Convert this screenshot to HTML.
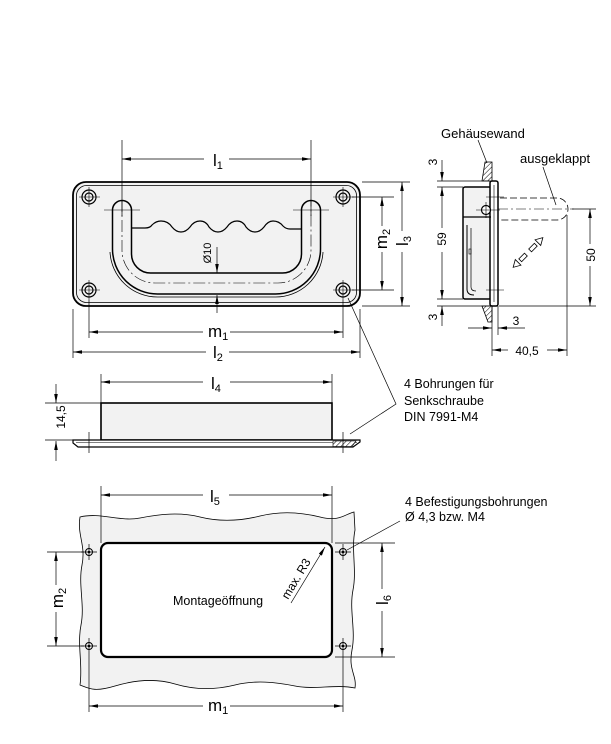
<!DOCTYPE html>
<html><head><meta charset="utf-8">
<style>
html,body{margin:0;padding:0;background:#fff;}
svg{display:block;}
text{font-family:"Liberation Sans",Arial,sans-serif;fill:#000;stroke:none;}
</style></head><body>
<svg width="611" height="744" viewBox="0 0 611 744" xmlns="http://www.w3.org/2000/svg">
<defs>
<marker id="a" viewBox="0 0 10 4" refX="10" refY="2" markerWidth="9" markerHeight="3.6" markerUnits="userSpaceOnUse" orient="auto-start-reverse"><path d="M0,0L10,2L0,4z" fill="#000"/></marker>
<pattern id="h" patternUnits="userSpaceOnUse" width="3.5" height="3.5" patternTransform="rotate(45)"><rect width="3.5" height="3.5" fill="#fff"/><line x1="0" y1="0" x2="0" y2="3.5" stroke="#000" stroke-width="1"/></pattern>
</defs>

<!-- ================= FRONT VIEW ================= -->
<g fill="none" stroke="#000">
  <rect x="73" y="182" width="287" height="124" rx="13" fill="#f2f2f2" stroke-width="1.8"/>
  <rect x="76.5" y="185.5" width="280" height="117" rx="10" stroke-width="0.8"/>
  <!-- holes -->
  <g stroke-width="1.2">
    <circle cx="89" cy="197" r="7"/><circle cx="89" cy="197" r="4"/>
    <circle cx="343" cy="197" r="7"/><circle cx="343" cy="197" r="4"/>
    <circle cx="89" cy="290" r="7"/><circle cx="89" cy="290" r="4"/>
    <circle cx="343" cy="290" r="7"/><circle cx="343" cy="290" r="4"/>
  </g>
  <g stroke-width="0.6">
    <path d="M79,197H100M89,187V207M333,197H354M343,187V207M79,290H100M89,280V300M333,290H354M343,280V300"/>
  </g>
  <!-- handle -->
  <path d="M112.5,210 L112.5,249 A45,45 0 0 0 157.5,294 L275.5,294 A45,45 0 0 0 320.5,249 L320.5,210 A9.5,9.5 0 0 0 301.5,210 L301.5,254 A19,19 0 0 1 282.5,273 L150.5,273 A19,19 0 0 1 131.5,254 L131.5,210 A9.5,9.5 0 0 0 112.5,210 Z" fill="#f2f2f2" stroke-width="1.5"/>
  <path d="M110,252 A47.5,47.5 0 0 0 157.5,297 L275.5,297 A47.5,47.5 0 0 0 323,252" stroke-width="0.8"/>
  <path d="M122,200 L122,250 A33,33 0 0 0 155,283 L278,283 A33,33 0 0 0 311,250 L311,200" stroke-width="0.6" stroke-dasharray="12 3 2 3"/>
  <path d="M131.5,228 L145,228 Q150,228 152,225 Q156,221 161,221 Q168,221 172,227 Q176,232 181,232 Q186,232 190,227 Q194,221 200,221 Q206,221 209,227 Q213,232 218,232 Q223,232 227,227 Q231,221 237,221 Q243,221 246,227 Q250,232 255,232 Q260,232 264,227 Q268,221 273,221 Q279,221 283,226 Q286,229 290,229 L301.5,229" stroke-width="1.2"/>
  <!-- crosshairs at leg tops -->
  <path d="M104,210H140M293,210H329" stroke-width="0.6"/>
  <!-- dimension lines -->
  <g stroke-width="0.7">
    <path d="M122,140V216M311,140V216"/>
    <line x1="122" y1="159" x2="204" y2="159" marker-start="url(#a)"/>
    <line x1="229" y1="159" x2="311" y2="159" marker-end="url(#a)"/>
    <line x1="217" y1="247" x2="217" y2="273" marker-end="url(#a)"/>
    <line x1="217" y1="313" x2="217" y2="295" marker-end="url(#a)"/>
    <path d="M352,197H394M352,290H394M362,182H410M362,306H410"/>
    <line x1="382" y1="197" x2="382" y2="226" marker-start="url(#a)"/>
    <line x1="382" y1="252" x2="382" y2="290" marker-end="url(#a)"/>
    <line x1="402" y1="182" x2="402" y2="231" marker-start="url(#a)"/>
    <line x1="402" y1="252" x2="402" y2="306" marker-end="url(#a)"/>
    <path d="M73,309V358M360,309V358M89,300V338M343,300V338"/>
    <line x1="89" y1="332" x2="203" y2="332" marker-start="url(#a)"/>
    <line x1="230" y1="332" x2="343" y2="332" marker-end="url(#a)"/>
    <line x1="73" y1="352" x2="206" y2="352" marker-start="url(#a)"/>
    <line x1="229" y1="352" x2="360" y2="352" marker-end="url(#a)"/>
    <polyline points="348,298 396,404 350,434"/>
  </g>
</g>
<text x="213" y="166" font-size="17">l<tspan font-size="11" dy="3">1</tspan></text>
<text x="208" y="337" font-size="17">m<tspan font-size="11" dy="3">1</tspan></text>
<text x="213" y="358" font-size="17">l<tspan font-size="11" dy="3">2</tspan></text>
<text transform="translate(387,239) rotate(-90)" font-size="17" text-anchor="middle">m<tspan font-size="11" dy="3">2</tspan></text>
<text transform="translate(408,241) rotate(-90)" font-size="17" text-anchor="middle">l<tspan font-size="11" dy="3">3</tspan></text>
<text transform="translate(211,253) rotate(-90)" font-size="11" text-anchor="middle">Ø10</text>

<!-- ================= SIDE VIEW ================= -->
<g fill="none" stroke="#000">
  <polygon points="485,162 492,162 492,181 482,181" fill="url(#h)" stroke-width="0.8"/>
  <polygon points="482,306 492,306 492,322 488,322" fill="url(#h)" stroke-width="0.8"/>
  <rect x="463" y="187" width="28" height="112" rx="2" fill="#f2f2f2" stroke-width="1.5"/>
  <rect x="490" y="181" width="8" height="125" rx="2" fill="#fff" stroke-width="1.5"/>
  <path d="M494,185V302" stroke-width="0.6"/>
  <path d="M463,217H491" stroke-width="1.2"/>
  <path d="M467,225 L467,289 Q467,295 474,295" stroke-width="1"/>
  <path d="M471,228 L471,287 Q471,291 476,291" stroke-width="0.7"/>
  <rect x="469" y="249" width="2" height="5" stroke-width="0.6"/>
  <circle cx="486" cy="210" r="4.5" fill="#fff" stroke-width="1.2"/>
  <path d="M476,210H500M486,197H504M486,290H504M486,202V218" stroke-width="0.6"/>
  <path d="M500,198 L557,198 A11,11 0 0 1 557,220 L500,220" stroke-width="0.8" stroke-dasharray="7 3"/>
  <path d="M498,209H574" stroke-width="0.6" stroke-dasharray="10 3 2 3"/>
  <g transform="translate(528,252.5) rotate(-45)" stroke-width="0.8" fill="#fff">
    <polygon points="-21,0 -14,-4 -14,4"/><polygon points="21,0 14,-4 14,4"/>
    <rect x="-11" y="-2" width="8" height="4"/><rect x="3" y="-2" width="8" height="4"/>
  </g>
  <g stroke-width="0.7">
    <path d="M478,140L487,163M543,167L556,205"/>
    <path d="M437,181H490M437,187H463M437,299H463M437,306H490"/>
    <line x1="442" y1="160" x2="442" y2="181" marker-end="url(#a)"/>
    <line x1="442" y1="187" x2="442" y2="228" marker-start="url(#a)"/>
    <line x1="442" y1="252" x2="442" y2="299" marker-end="url(#a)"/>
    <line x1="442" y1="326" x2="442" y2="306" marker-end="url(#a)"/>
    <path d="M572,209H596M499,306H596M567,215V356M492,306V356M498,306V335"/>
    <line x1="590" y1="209" x2="590" y2="244" marker-start="url(#a)"/>
    <line x1="590" y1="266" x2="590" y2="306" marker-end="url(#a)"/>
    <line x1="468" y1="328" x2="492" y2="328" marker-end="url(#a)"/>
    <line x1="525" y1="328" x2="498" y2="328" marker-end="url(#a)"/>
    <line x1="492" y1="350" x2="508" y2="350" marker-start="url(#a)"/>
    <line x1="547" y1="350" x2="567" y2="350" marker-end="url(#a)"/>
  </g>
</g>
<text x="441" y="138" font-size="13">Gehäusewand</text>
<text x="520" y="163" font-size="13">ausgeklappt</text>
<text transform="translate(437,162) rotate(-90)" font-size="12" text-anchor="middle">3</text>
<text transform="translate(446,239) rotate(-90)" font-size="12" text-anchor="middle">59</text>
<text transform="translate(437,317) rotate(-90)" font-size="12" text-anchor="middle">3</text>
<text transform="translate(595,255) rotate(-90)" font-size="12" text-anchor="middle">50</text>
<text x="516" y="325" font-size="12" text-anchor="middle">3</text>
<text x="527" y="355" font-size="12" text-anchor="middle">40,5</text>

<!-- ================= MIDDLE VIEW ================= -->
<g fill="none" stroke="#000">
  <rect x="101" y="403" width="231" height="37" fill="#f2f2f2" stroke-width="1.6"/>
  <polygon points="73,440 360,440 360,442 353,447 78,447 73,443" fill="#fff" stroke-width="1.2"/>
  <path d="M76,442.7H357" stroke-width="0.5"/>
  <polygon points="333,441 356,441 352,446.5 333,446.5" fill="url(#h)" stroke-width="0.6"/>
  <g stroke-width="0.7">
    <path d="M89,432V453M343,432V453"/>
    <path d="M101,374V403M332,374V403"/>
    <line x1="101" y1="382" x2="203" y2="382" marker-start="url(#a)"/>
    <line x1="230" y1="382" x2="332" y2="382" marker-end="url(#a)"/>
    <path d="M45,403H101M45,440H73"/>
    <line x1="56" y1="384" x2="56" y2="403" marker-end="url(#a)"/>
    <line x1="56" y1="461" x2="56" y2="441" marker-end="url(#a)"/>
  </g>
</g>
<text x="211" y="389" font-size="17">l<tspan font-size="11" dy="3">4</tspan></text>
<text transform="translate(65,417) rotate(-90)" font-size="12" text-anchor="middle">14,5</text>
<text x="404" y="388" font-size="12.5">4 Bohrungen  für</text>
<text x="404" y="405" font-size="12.5">Senkschraube</text>
<text x="404" y="421" font-size="12.5">DIN 7991-M4</text>

<!-- ================= BOTTOM VIEW ================= -->
<g fill="none" stroke="#000">
  <path d="M80,517 C100,512 120,522 140,518 S180,512 200,517 S240,521 260,516 S300,512 320,517 S345,514 354,512 L355,530 C351,550 357,570 353,590 S356,630 352,650 S357,675 355,688 C335,684 315,690 295,686 S255,680 235,685 S195,690 175,684 S135,680 115,686 S90,689 80,685 C83,665 77,645 81,625 S78,585 82,565 S77,535 80,517 Z" fill="#f2f2f2" stroke-width="0.8"/>
  <rect x="101" y="543" width="231" height="114" rx="7" fill="#fff" stroke-width="2.2"/>
  <g stroke-width="1">
    <circle cx="89" cy="552" r="3.5"/><circle cx="343" cy="552" r="3.5"/>
    <circle cx="89" cy="646" r="3.5"/><circle cx="343" cy="646" r="3.5"/>
  </g>
  <g fill="#000" stroke="none">
    <circle cx="89" cy="552" r="1.3"/><circle cx="343" cy="552" r="1.3"/>
    <circle cx="89" cy="646" r="1.3"/><circle cx="343" cy="646" r="1.3"/>
  </g>
  <g stroke-width="0.7">
    <path d="M81,552H97M89,544V560M335,552H351M343,544V560M81,646H97M89,638V654M335,646H351M343,638V654"/>
    <path d="M101,486V543M332,486V543"/>
    <line x1="101" y1="495" x2="203" y2="495" marker-start="url(#a)"/>
    <line x1="229" y1="495" x2="332" y2="495" marker-end="url(#a)"/>
    <path d="M47,552H84M47,646H84"/>
    <line x1="56" y1="552" x2="56" y2="585" marker-start="url(#a)"/>
    <line x1="56" y1="612" x2="56" y2="646" marker-end="url(#a)"/>
    <path d="M89,654V712M343,654V712"/>
    <line x1="89" y1="706" x2="203" y2="706" marker-start="url(#a)"/>
    <line x1="230" y1="706" x2="343" y2="706" marker-end="url(#a)"/>
    <path d="M335,543H395M335,657H395"/>
    <line x1="382" y1="543" x2="382" y2="589" marker-start="url(#a)"/>
    <line x1="382" y1="611" x2="382" y2="657" marker-end="url(#a)"/>
    <path d="M347,550L400,521"/>
    <line x1="291" y1="603" x2="325" y2="547" marker-end="url(#a)"/>
  </g>
</g>
<text x="210" y="502" font-size="17">l<tspan font-size="11" dy="3">5</tspan></text>
<text transform="translate(63,598) rotate(-90)" font-size="17" text-anchor="middle">m<tspan font-size="11" dy="3">2</tspan></text>
<text x="208" y="711" font-size="17">m<tspan font-size="11" dy="3">1</tspan></text>
<text transform="translate(388,600) rotate(-90)" font-size="17" text-anchor="middle">l<tspan font-size="11" dy="3">6</tspan></text>
<text x="173" y="605" font-size="12.5">Montageöffnung</text>
<text transform="translate(288,600) rotate(-59)" font-size="12">max. R3</text>
<text x="405" y="506" font-size="12.5">4 Befestigungsbohrungen</text>
<text x="405" y="521" font-size="12.5">Ø 4,3 bzw. M4</text>
</svg>
</body></html>
